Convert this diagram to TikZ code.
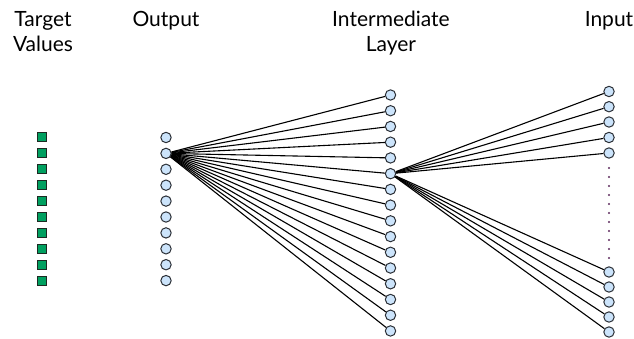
\documentclass[tikz,border=0pt]{standalone}
\usepackage{fontspec}
\setmainfont{Lato}
\definecolor{unitfill}{HTML}{CCE4FB}
\definecolor{unitline}{HTML}{2B2F36}
\definecolor{targetfill}{HTML}{00A060}
\definecolor{targetline}{HTML}{1C2A22}
\definecolor{gapdots}{HTML}{5E2A5E}
\tikzset{
  unit/.style={circle, draw=unitline, fill=unitfill, line width=1pt,
               inner sep=0pt, minimum size=10.4pt},
  target/.style={rectangle, draw=targetline, fill=targetfill, line width=1pt,
                 inner sep=0pt, minimum width=9pt, minimum height=9pt},
  link/.style={black, line width=1.1pt},
  layerlabel/.style={anchor=base, align=center, inner sep=0pt,
                     font=\fontsize{21}{25}\selectfont}
}
\begin{document}
\begin{tikzpicture}[x=1pt, y=-1pt]
  \useasboundingbox (0,0) rectangle (634,339);

  % column headings (base anchor sits on the last line)
  \node[layerlabel] (lblT) at (43,51.7) {Target\\Values};
  \node[layerlabel] (lblO) at (166,26.7) {Output};
  \node[layerlabel] (lblH) at (391,51.7) {Intermediate\\Layer};
  \node[layerlabel] (lblI) at (609,26.7) {Input};

  % target values and output units
  \foreach \k in {1,...,10} {
    \node[target] (t\k) at (42,{137.5+15.9*(\k-1)}) {};
    \node[unit]   (o\k) at (166,{137.5+15.9*(\k-1)}) {};
  }

  % intermediate layer
  \foreach \k in {1,...,16}
    \node[unit] (h\k) at (390.5,{95+15.73*(\k-1)}) {};

  % input units: top group, gap, bottom group
  \foreach \k/\yy in {1/91.5,2/106.7,3/122,4/137.5,5/153}
    \node[unit] (a\k) at (609,\yy) {};
  \foreach \k/\yy in {1/272,2/287,3/302,4/317,5/332}
    \node[unit] (b\k) at (609,\yy) {};
  \foreach \k in {0,...,10}
    \fill[gapdots] (609,{168+9*\k}) circle (1.05pt);

  % connections
  \foreach \k in {1,...,16}
    \draw[link] (o2) -- (h\k);
  \foreach \k in {1,...,5} {
    \draw[link] (h6) -- (a\k);
    \draw[link] (h6) -- (b\k);
  }
\end{tikzpicture}
\end{document}
